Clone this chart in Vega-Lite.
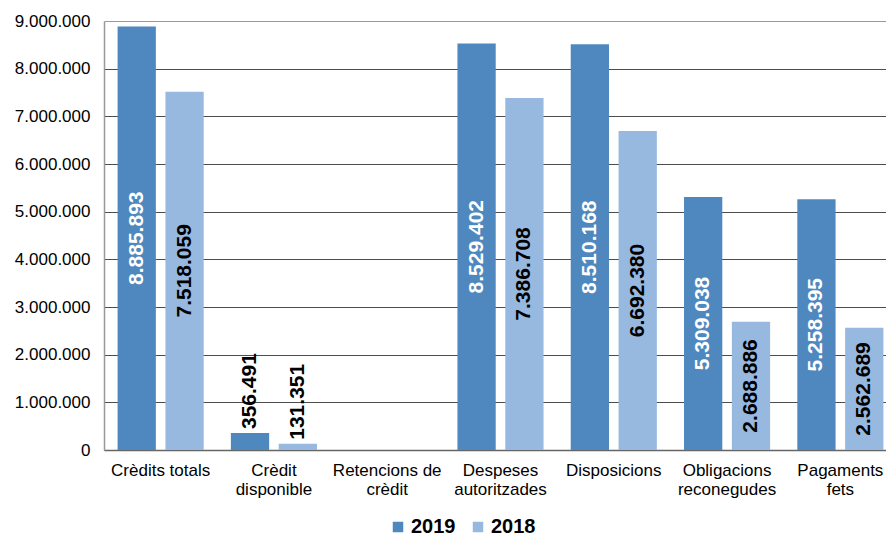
{
  "$schema": "https://vega.github.io/schema/vega-lite/v6.json",
  "width": 781,
  "height": 429,
  "autosize": {"type": "none"},
  "padding": {"left": 104, "top": 21, "right": 1, "bottom": 88},
  "background": "white",
  "config": {
    "font": "Liberation Sans",
    "view": {"stroke": null},
    "locale": {"number": {"decimal": ",", "thousands": ".", "grouping": [3], "currency": ["", " €"]}}
  },
  "data": {
    "values": [
      {"categoria": "Crèdits totals", "any": "2019", "import": 8885893},
      {"categoria": "Crèdits totals", "any": "2018", "import": 7518059},
      {"categoria": "Crèdit\ndisponible", "any": "2019", "import": 356491},
      {"categoria": "Crèdit\ndisponible", "any": "2018", "import": 131351},
      {"categoria": "Retencions de\ncrèdit", "any": "2019", "import": 0},
      {"categoria": "Retencions de\ncrèdit", "any": "2018", "import": 0},
      {"categoria": "Despeses\nautoritzades", "any": "2019", "import": 8529402},
      {"categoria": "Despeses\nautoritzades", "any": "2018", "import": 7386708},
      {"categoria": "Disposicions", "any": "2019", "import": 8510168},
      {"categoria": "Disposicions", "any": "2018", "import": 6692380},
      {"categoria": "Obligacions\nreconegudes", "any": "2019", "import": 5309038},
      {"categoria": "Obligacions\nreconegudes", "any": "2018", "import": 2688886},
      {"categoria": "Pagaments\nfets", "any": "2019", "import": 5258395},
      {"categoria": "Pagaments\nfets", "any": "2018", "import": 2562689}
    ]
  },
  "encoding": {
    "x": {
      "field": "categoria",
      "type": "nominal",
      "sort": null,
      "scale": {"range": [0, 793], "paddingInner": 0.24, "paddingOuter": 0.12},
      "axis": {
        "title": null,
        "labelAngle": 0,
        "labelExpr": "split(datum.value, '\\n')",
        "labelFontSize": 17,
        "labelColor": "#000000",
        "labelLineHeight": 19,
        "labelPadding": 12,
        "labelBaseline": "top",
        "ticks": false,
        "domainColor": "#666666",
        "domainWidth": 1.5,
        "grid": false
      }
    },
    "xOffset": {"field": "any", "type": "nominal", "sort": ["2019", "2018"], "scale": {"paddingInner": 0.2}}
  },
  "layer": [
    {
      "mark": {"type": "bar"},
      "encoding": {
        "y": {
          "field": "import",
          "type": "quantitative",
          "scale": {"domain": [0, 9000000], "nice": false},
          "axis": {
            "title": null,
            "values": [0, 1000000, 2000000, 3000000, 4000000, 5000000, 6000000, 7000000, 8000000, 9000000],
            "format": ",d",
            "labelFontSize": 17,
            "labelColor": "#000000",
            "labelPadding": 14,
            "ticks": false,
            "domainColor": "#999999",
            "domainWidth": 1.5,
            "gridColor": {"condition": {"test": "datum.value == 9000000", "value": "#9a9a9a"}, "value": "#4d4d4d"},
            "gridWidth": 1.2
          }
        },
        "color": {
          "field": "any",
          "type": "nominal",
          "scale": {"domain": ["2019", "2018"], "range": ["#4f88be", "#97b9e0"]},
          "legend": {
            "title": null,
            "orient": "none",
            "direction": "horizontal",
            "legendX": 284,
            "legendY": 496,
            "symbolType": "square",
            "symbolSize": 110,
            "symbolStrokeWidth": 0,
            "labelFontSize": 20,
            "labelFontWeight": "bold",
            "labelColor": "#000000",
            "columnPadding": 12,
            "labelOffset": 3
          }
        }
      }
    },
    {
      "transform": [
        {"filter": "datum['import'] >= 1000000"},
        {"calculate": "datum['import'] / 2", "as": "centre"}
      ],
      "mark": {"type": "text", "angle": 270, "align": "center", "baseline": "middle", "fontSize": 21, "fontWeight": "bold"},
      "encoding": {
        "y": {"field": "centre", "type": "quantitative"},
        "text": {"field": "import", "type": "quantitative", "format": ",d"},
        "color": {"condition": {"test": "datum['any'] == '2019'", "value": "#ffffff"}, "value": "#000000"}
      }
    },
    {
      "transform": [{"filter": "datum['import'] > 0 && datum['import'] < 1000000"}],
      "mark": {"type": "text", "angle": 270, "align": "left", "baseline": "middle", "fontSize": 21, "fontWeight": "bold", "dx": 4, "color": "#000000"},
      "encoding": {
        "y": {"field": "import", "type": "quantitative"},
        "text": {"field": "import", "type": "quantitative", "format": ",d"}
      }
    }
  ]
}
